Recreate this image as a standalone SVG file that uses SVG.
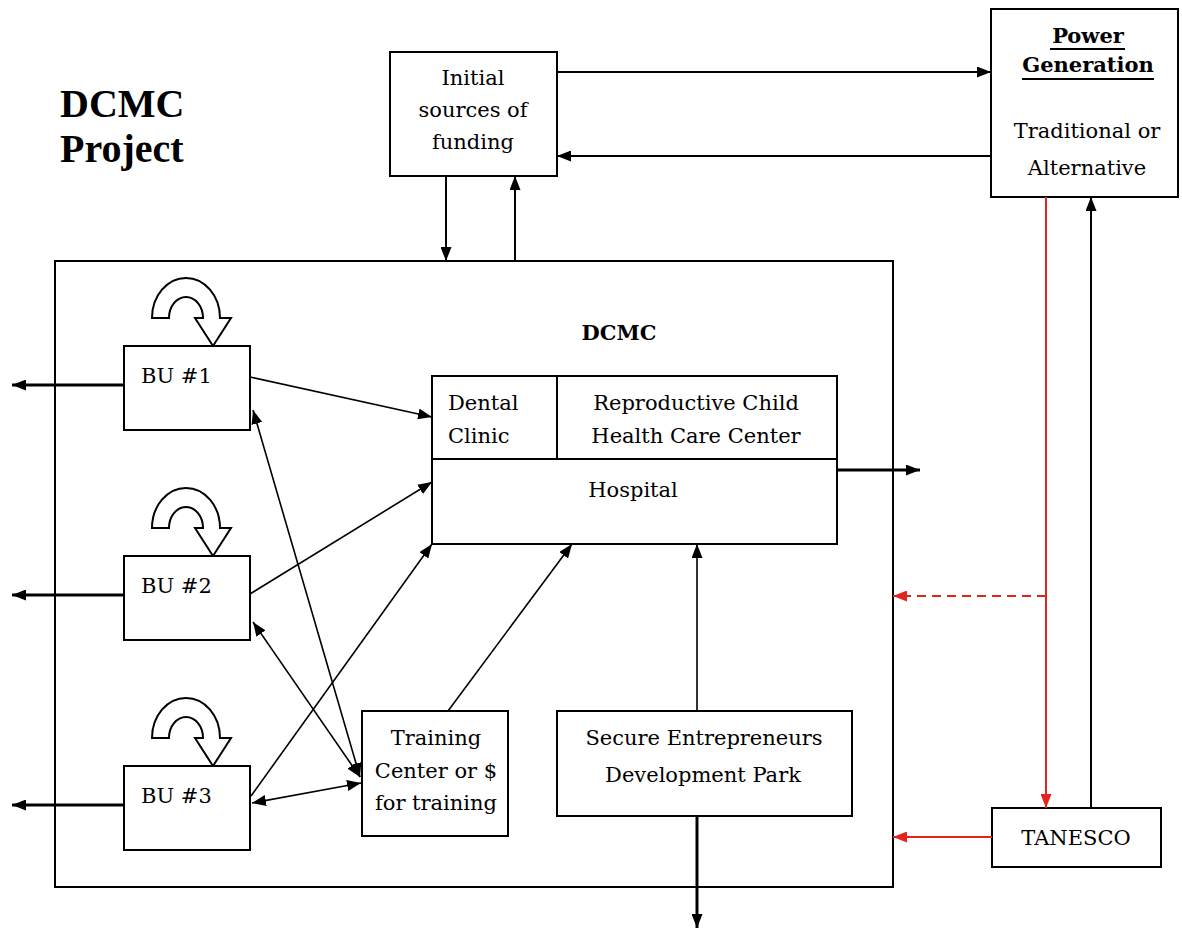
<svg xmlns="http://www.w3.org/2000/svg" width="1182" height="930" viewBox="0 0 1182 930">
<defs>
<style>
.box{fill:#fff;stroke:#000;stroke-width:2}
.t{font-family:"DejaVu Serif","Liberation Serif",serif;font-size:21px;fill:#000}
.c{text-anchor:middle}
.ln{fill:none;stroke:#000;stroke-width:1.6}
.lk{fill:none;stroke:#000;stroke-width:2}
.th{fill:none;stroke:#000;stroke-width:3}
.rd{fill:none;stroke:#e3231f;stroke-width:2}
.curl{fill:#fff;stroke:#000;stroke-width:2;stroke-linejoin:miter}
</style>
<marker id="ah" viewBox="0 0 14 11" refX="14" refY="5.5" markerWidth="14" markerHeight="11" markerUnits="userSpaceOnUse" orient="auto-start-reverse"><path d="M0,0 L14,5.5 L0,11 Z" fill="#000"/></marker>
<marker id="ahr" viewBox="0 0 14 11" refX="14" refY="5.5" markerWidth="14" markerHeight="11" markerUnits="userSpaceOnUse" orient="auto"><path d="M0,0 L14,5.5 L0,11 Z" fill="#e3231f"/></marker>
<path id="curlshape" d="M-34,0 A34,40 0 0 1 34,0 L45,0 L27,28 L9,0 L17,0 A17,21 0 0 0 -17,0 Z"/>
</defs>
<rect width="1182" height="930" fill="#fff"/>

<g id="title">
<text x="60" y="117" font-family="Liberation Serif, serif" font-weight="bold" font-size="40">DCMC</text>
<text x="60" y="162" font-family="Liberation Serif, serif" font-weight="bold" font-size="40">Project</text>
</g>

<g id="dcmc">
<rect class="box" x="55" y="261" width="838" height="626"/>
<text class="t c" x="619" y="340" font-weight="bold" font-size="20">DCMC</text>
</g>

<g id="funding">
<rect class="box" x="390" y="52" width="167" height="124"/>
<text class="t c" x="473" y="85">Initial</text>
<text class="t c" x="473" y="117">sources of</text>
<text class="t c" x="473" y="149">funding</text>
</g>

<g id="power">
<rect class="box" x="991" y="9" width="187" height="188"/>
<text class="t c" x="1088" y="43" font-weight="bold">Power</text>
<line x1="1050" y1="49" x2="1125" y2="49" stroke="#000" stroke-width="2"/>
<text class="t c" x="1088" y="72" font-weight="bold">Generation</text>
<line x1="1022" y1="79" x2="1154" y2="79" stroke="#000" stroke-width="2"/>
<text class="t c" x="1087" y="138">Traditional or</text>
<text class="t c" x="1087" y="175">Alternative</text>
</g>

<g id="tanesco">
<rect class="box" x="992" y="808" width="169" height="59"/>
<text class="t c" x="1076" y="845">TANESCO</text>
</g>

<g id="bu1">
<use href="#curlshape" class="curl" x="186" y="318"/>
<rect class="box" x="124" y="346" width="126" height="84"/>
<text class="t" x="141" y="383">BU #1</text>
</g>
<g id="bu2">
<use href="#curlshape" class="curl" x="186" y="528"/>
<rect class="box" x="124" y="556" width="126" height="84"/>
<text class="t" x="141" y="593">BU #2</text>
</g>
<g id="bu3">
<use href="#curlshape" class="curl" x="186" y="738"/>
<rect class="box" x="124" y="766" width="126" height="84"/>
<text class="t" x="141" y="803">BU #3</text>
</g>

<g id="health">
<rect class="box" x="432" y="376" width="405" height="168"/>
<line x1="432" y1="459" x2="837" y2="459" stroke="#000" stroke-width="2"/>
<line x1="557" y1="376" x2="557" y2="459" stroke="#000" stroke-width="2"/>
<text class="t" x="448" y="410">Dental</text>
<text class="t" x="448" y="443">Clinic</text>
<text class="t c" x="696" y="410">Reproductive Child</text>
<text class="t c" x="696" y="443">Health Care Center</text>
<text class="t c" x="633" y="497">Hospital</text>
</g>

<g id="training">
<rect class="box" x="362" y="711" width="146" height="125"/>
<text class="t c" x="436" y="745">Training</text>
<text class="t c" x="436" y="778">Center or $</text>
<text class="t c" x="436" y="810">for training</text>
</g>

<g id="sedp">
<rect class="box" x="557" y="711" width="295" height="105"/>
<text class="t c" x="704" y="745">Secure Entrepreneurs</text>
<text class="t c" x="703" y="782">Development Park</text>
</g>

<g id="connectors">
<path class="lk" d="M557,72 L991,72" marker-end="url(#ah)"/>
<path class="lk" d="M991,156 L557,156" marker-end="url(#ah)"/>
<path class="lk" d="M446,176 L446,261" marker-end="url(#ah)"/>
<path class="lk" d="M515,261 L515,176" marker-end="url(#ah)"/>
<path class="rd" d="M1046,197 L1046,808" marker-end="url(#ahr)"/>
<path class="lk" d="M1091,808 L1091,197" marker-end="url(#ah)"/>
<path class="rd" d="M992,837 L893,837" marker-end="url(#ahr)"/>
<path class="rd" d="M1046,596 L893,596" stroke-dasharray="9,6" marker-end="url(#ahr)"/>
<path class="th" d="M124,385 L12,385" marker-end="url(#ah)"/>
<path class="th" d="M124,595 L12,595" marker-end="url(#ah)"/>
<path class="th" d="M124,805 L12,805" marker-end="url(#ah)"/>
<path class="th" d="M837,470 L920,470" marker-end="url(#ah)"/>
<path class="th" d="M697,816 L697,928" marker-end="url(#ah)"/>
<path class="ln" d="M697,711 L697,544" marker-end="url(#ah)"/>
<path class="ln" d="M250,377 L432,417" marker-end="url(#ah)"/>
<path class="ln" d="M250,594 L432,482" marker-end="url(#ah)"/>
<path class="ln" d="M251,796 L432,544" marker-end="url(#ah)"/>
<path class="ln" d="M448,711 L572,544" marker-end="url(#ah)"/>
<path class="ln" d="M253,410 L360,777" marker-start="url(#ah)" marker-end="url(#ah)"/>
<path class="ln" d="M253,622 L360,777" marker-start="url(#ah)" marker-end="url(#ah)"/>
<path class="ln" d="M252,803 L361,783" marker-start="url(#ah)" marker-end="url(#ah)"/>
</g>
</svg>
